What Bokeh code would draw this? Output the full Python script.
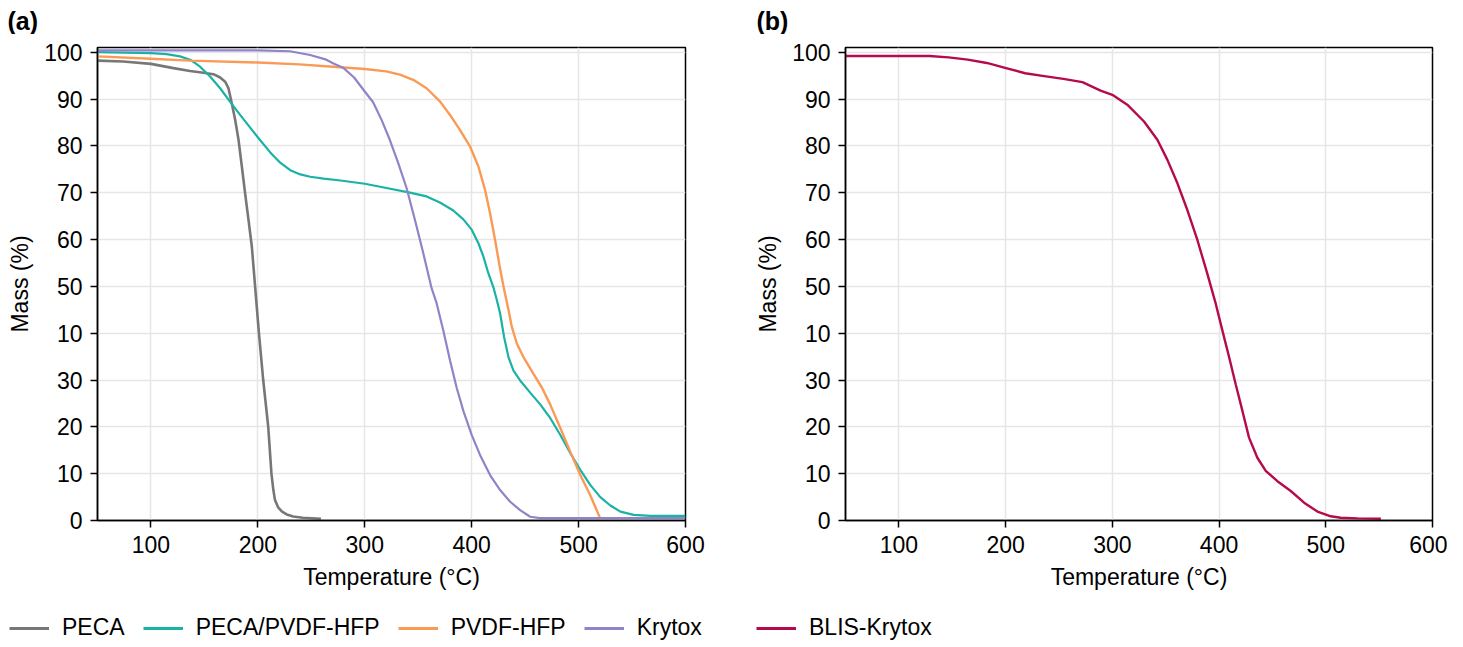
from bokeh.plotting import figure
from bokeh.models import Range1d, FixedTicker, Legend, LegendItem, Label
from bokeh.layouts import row, column
from bokeh.embed import file_html
from bokeh.resources import INLINE

# ---- data ----
peca_T = [50, 74, 100, 121, 136.6, 149, 158.4, 164.7, 169.4, 172.5, 175.6, 178.8, 181.9, 185, 188.1, 191.3, 194.4,
          197.4, 201, 205, 209.7, 212.7, 214.5, 216, 219, 222.6, 227, 233, 242, 259]
peca_M = [98.2, 98.0, 97.5, 96.6, 96.0, 95.6, 95.3, 94.6, 93.7, 92.3, 89.1, 85.5, 81.3, 75.6, 69.8, 64.1, 58.4,
          50, 40, 30, 20, 10, 6.5, 4.4, 2.8, 1.9, 1.3, 0.85, 0.6, 0.35]

mix_T = [50, 100, 114.7, 127.2, 136.6, 146, 155.3, 164.7, 174.1, 183.4, 192.8, 202.2, 211.6, 220.9, 230.3, 239.7,
         249, 261.6, 277.2, 300, 320.3, 342.2, 357.8, 370.3, 382.8, 392.2, 400, 406.3, 410.9, 415.6, 420.3,
         423.4, 426.6, 430.3, 434.4, 439.1, 445.3, 454.7, 464.1, 473.4, 482.8, 492.2, 501.6, 510.9, 520.3,
         529.7, 539.1, 551.6, 567.2, 600]
mix_M = [100, 99.8, 99.6, 99.1, 98.4, 96.9, 94.8, 92.3, 89.4, 86.6, 83.9, 81.2, 78.6, 76.4, 74.8, 73.9,
         73.4, 73.0, 72.6, 71.9, 71.0, 70.0, 69.2, 67.9, 66.2, 64.3, 62.1, 59.2, 56.4, 52.8, 49.8,
         47.2, 44.2, 39.2, 34.9, 32.0, 29.9, 27.3, 24.8, 21.9, 18.3, 14.4, 10.8, 7.6, 5.0,
         3.2, 1.9, 1.2, 1.0, 1.0]

pvdf_T = [50, 100, 136.6, 200, 239, 270.3, 300, 320.3, 332.8, 345.3, 357.8, 370.3, 379.7, 389, 398.4, 406.3,
          412.5, 417.2, 421.9, 425.9, 429.7, 434.4, 437.5, 442.2, 448.4, 457.8, 465.6, 473.4, 482.8,
          492.2, 501.6, 510.9, 520.3]
pvdf_M = [99.1, 98.6, 98.2, 97.8, 97.4, 96.9, 96.4, 95.9, 95.2, 94.1, 92.3, 89.5, 86.6, 83.4, 79.9, 75.6,
          70.6, 65.6, 59.9, 54.6, 50.0, 45.0, 41.4, 37.8, 34.9, 31.3, 28.4, 24.8, 19.8,
          14.7, 9.7, 5.4, 0.4]

kry_T = [50, 150, 200, 230, 248.9, 264, 270.7, 279.7, 290, 300, 307.8, 315.6, 323.4, 331.3, 339.1, 346.9,
         354.7, 362.5, 367.2, 373.4, 379.7, 385.9, 392.2, 400, 407.8, 417.2, 426.6, 436, 445.3, 454.7, 464, 600]
kry_M = [100.4, 100.4, 100.4, 100.2, 99.4, 98.4, 97.6, 96.7, 94.6, 91.6, 89.3, 85.6, 81.3, 76.3, 71.0, 64.2,
         57.1, 49.6, 46.4, 40.6, 34.2, 28.4, 23.4, 18.3, 14.0, 9.7, 6.5, 4.0, 2.2, 0.8, 0.5, 0.5]

blis_T = [50, 128.7, 146.6, 164.5, 182.4, 200.4, 218.3, 236.2, 254.1, 272, 289, 300, 314, 329.7, 342.2, 351.6,
          361, 370.3, 379.7, 389, 396.9, 403.1, 409.4, 415.6, 421.9, 428.1, 435.9, 443.75, 454.7, 467.2,
          479.7, 492.2, 504.7, 514, 530, 551.6]
blis_M = [99.2, 99.2, 98.9, 98.4, 97.7, 96.6, 95.5, 94.9, 94.3, 93.6, 91.8, 90.9, 88.8, 85.2, 81.3, 77,
          72, 66.3, 59.9, 52.7, 46.3, 40.6, 34.9, 29.1, 23.4, 17.7, 13.4, 10.6, 8.4, 6.3,
          3.8, 1.9, 0.9, 0.6, 0.45, 0.36]

x_ticks = [100, 200, 300, 400, 500, 600]
y_ticks = [0, 10, 20, 30, 40, 50, 60, 70, 80, 90, 100]
y_labels = {0: "0", 10: "10", 20: "20", 30: "30", 40: "10", 50: "50", 60: "60",
            70: "70", 80: "80", 90: "90", 100: "100"}
panel_titles = ["(a)", "(b)"]

FONT = "Liberation Sans"
TICK_FS = "23px"
LABEL_FS = "23px"
TITLE_H = 34
TOP = 47 - TITLE_H
FRAME_H = 473
BOTTOM = 85
H = TOP + FRAME_H + BOTTOM
WA, WB = 733, 714


def strip(height):
    s = figure(width=WA + WB, height=height, output_backend="svg", toolbar_location=None,
               min_border=0, x_range=Range1d(-20, -10), y_range=Range1d(-20, -10))
    s.axis.visible = False
    s.grid.visible = False
    s.outline_line_color = None
    s.background_fill_color = "white"
    s.border_fill_color = "white"
    return s


def make_fig(width, min_left, min_right):
    p = figure(width=width, height=H, output_backend="svg", toolbar_location=None,
               x_range=Range1d(50, 600), y_range=Range1d(0, 101),
               min_border_left=min_left, min_border_right=min_right,
               min_border_top=TOP, min_border_bottom=BOTTOM)
    p.outline_line_color = "black"
    p.outline_line_width = 1.5
    p.background_fill_color = "white"
    p.border_fill_color = "white"
    for ax in (p.xaxis[0], p.yaxis[0]):
        ax.axis_line_color = "black"
        ax.axis_line_width = 1.5
        ax.major_tick_line_color = "black"
        ax.major_tick_line_width = 1.5
        ax.major_tick_out = 7
        ax.major_tick_in = 0
        ax.minor_tick_line_color = None
        ax.major_label_text_font = FONT
        ax.major_label_text_font_size = TICK_FS
        ax.major_label_text_color = "black"
        ax.axis_label_text_font = FONT
        ax.axis_label_text_font_size = LABEL_FS
        ax.axis_label_text_font_style = "normal"
        ax.axis_label_text_color = "black"
        ax.major_label_standoff = 8
    p.xaxis.axis_label_standoff = 8
    p.yaxis.axis_label_standoff = 8
    p.xaxis.ticker = FixedTicker(ticks=x_ticks)
    p.yaxis.ticker = FixedTicker(ticks=y_ticks)
    p.yaxis.major_label_overrides = y_labels
    p.xaxis.axis_label = "Temperature (°C)"
    p.yaxis.axis_label = "Mass (%)"
    p.grid.grid_line_color = "#e6e6e6"
    p.grid.grid_line_width = 1.5
    return p


COLORS = {"PECA": "#777777", "PECA/PVDF-HFP": "#19b2a5", "PVDF-HFP": "#fb9a56",
          "Krytox": "#9183c8", "BLIS-Krytox": "#b50a4b"}
WIDTHS = {"PECA": 2.6, "PECA/PVDF-HFP": 2.2, "PVDF-HFP": 2.4, "Krytox": 2.2, "BLIS-Krytox": 2.4}
SERIES = {"PECA": (peca_T, peca_M), "PECA/PVDF-HFP": (mix_T, mix_M),
          "PVDF-HFP": (pvdf_T, pvdf_M), "Krytox": (kry_T, kry_M),
          "BLIS-Krytox": (blis_T, blis_M)}

pa = make_fig(WA, 97, 48)
for name in ["PECA", "PECA/PVDF-HFP", "PVDF-HFP", "Krytox"]:
    t, m = SERIES[name]
    pa.line(t, m, line_color=COLORS[name], line_width=WIDTHS[name])

pb = make_fig(WB, 112, 15)
pb.line(blis_T, blis_M, line_color=COLORS["BLIS-Krytox"], line_width=WIDTHS["BLIS-Krytox"])

# ---- panel letters strip ----
pt = strip(TITLE_H)
for txt, xs in zip(panel_titles, [7, 756]):
    pt.add_layout(Label(x=xs, y=TITLE_H - 20, x_units="screen", y_units="screen", text=txt,
                        text_font=FONT, text_font_size="25px", text_font_style="bold",
                        text_color="black", text_baseline="middle", text_align="left"))

# ---- legend strip under both panels (its lines sit outside its visible range) ----
LEG_H = 42
pl = strip(LEG_H)
leg_r = {}
for name, c in COLORS.items():
    t, m = SERIES[name]
    leg_r[name] = pl.line(t, m, line_color=c, line_width=3)


def add_legend(names, xoff):
    lg = Legend(items=[LegendItem(label=n, renderers=[leg_r[n]]) for n in names],
                orientation="horizontal", location=(xoff, 6),
                glyph_width=40, glyph_height=26, label_standoff=13, spacing=18,
                padding=0, margin=0, border_line_color=None,
                background_fill_alpha=0,
                label_text_font=FONT, label_text_font_size="23px",
                label_text_color="black", label_text_baseline="middle")
    pl.add_layout(lg, "center")


add_legend(["PECA", "PECA/PVDF-HFP", "PVDF-HFP", "Krytox"], 9)
add_legend(["BLIS-Krytox"], 756)

layout = column(pt, row(pa, pb), pl)
open("out.html", "w").write(file_html(layout, INLINE))
